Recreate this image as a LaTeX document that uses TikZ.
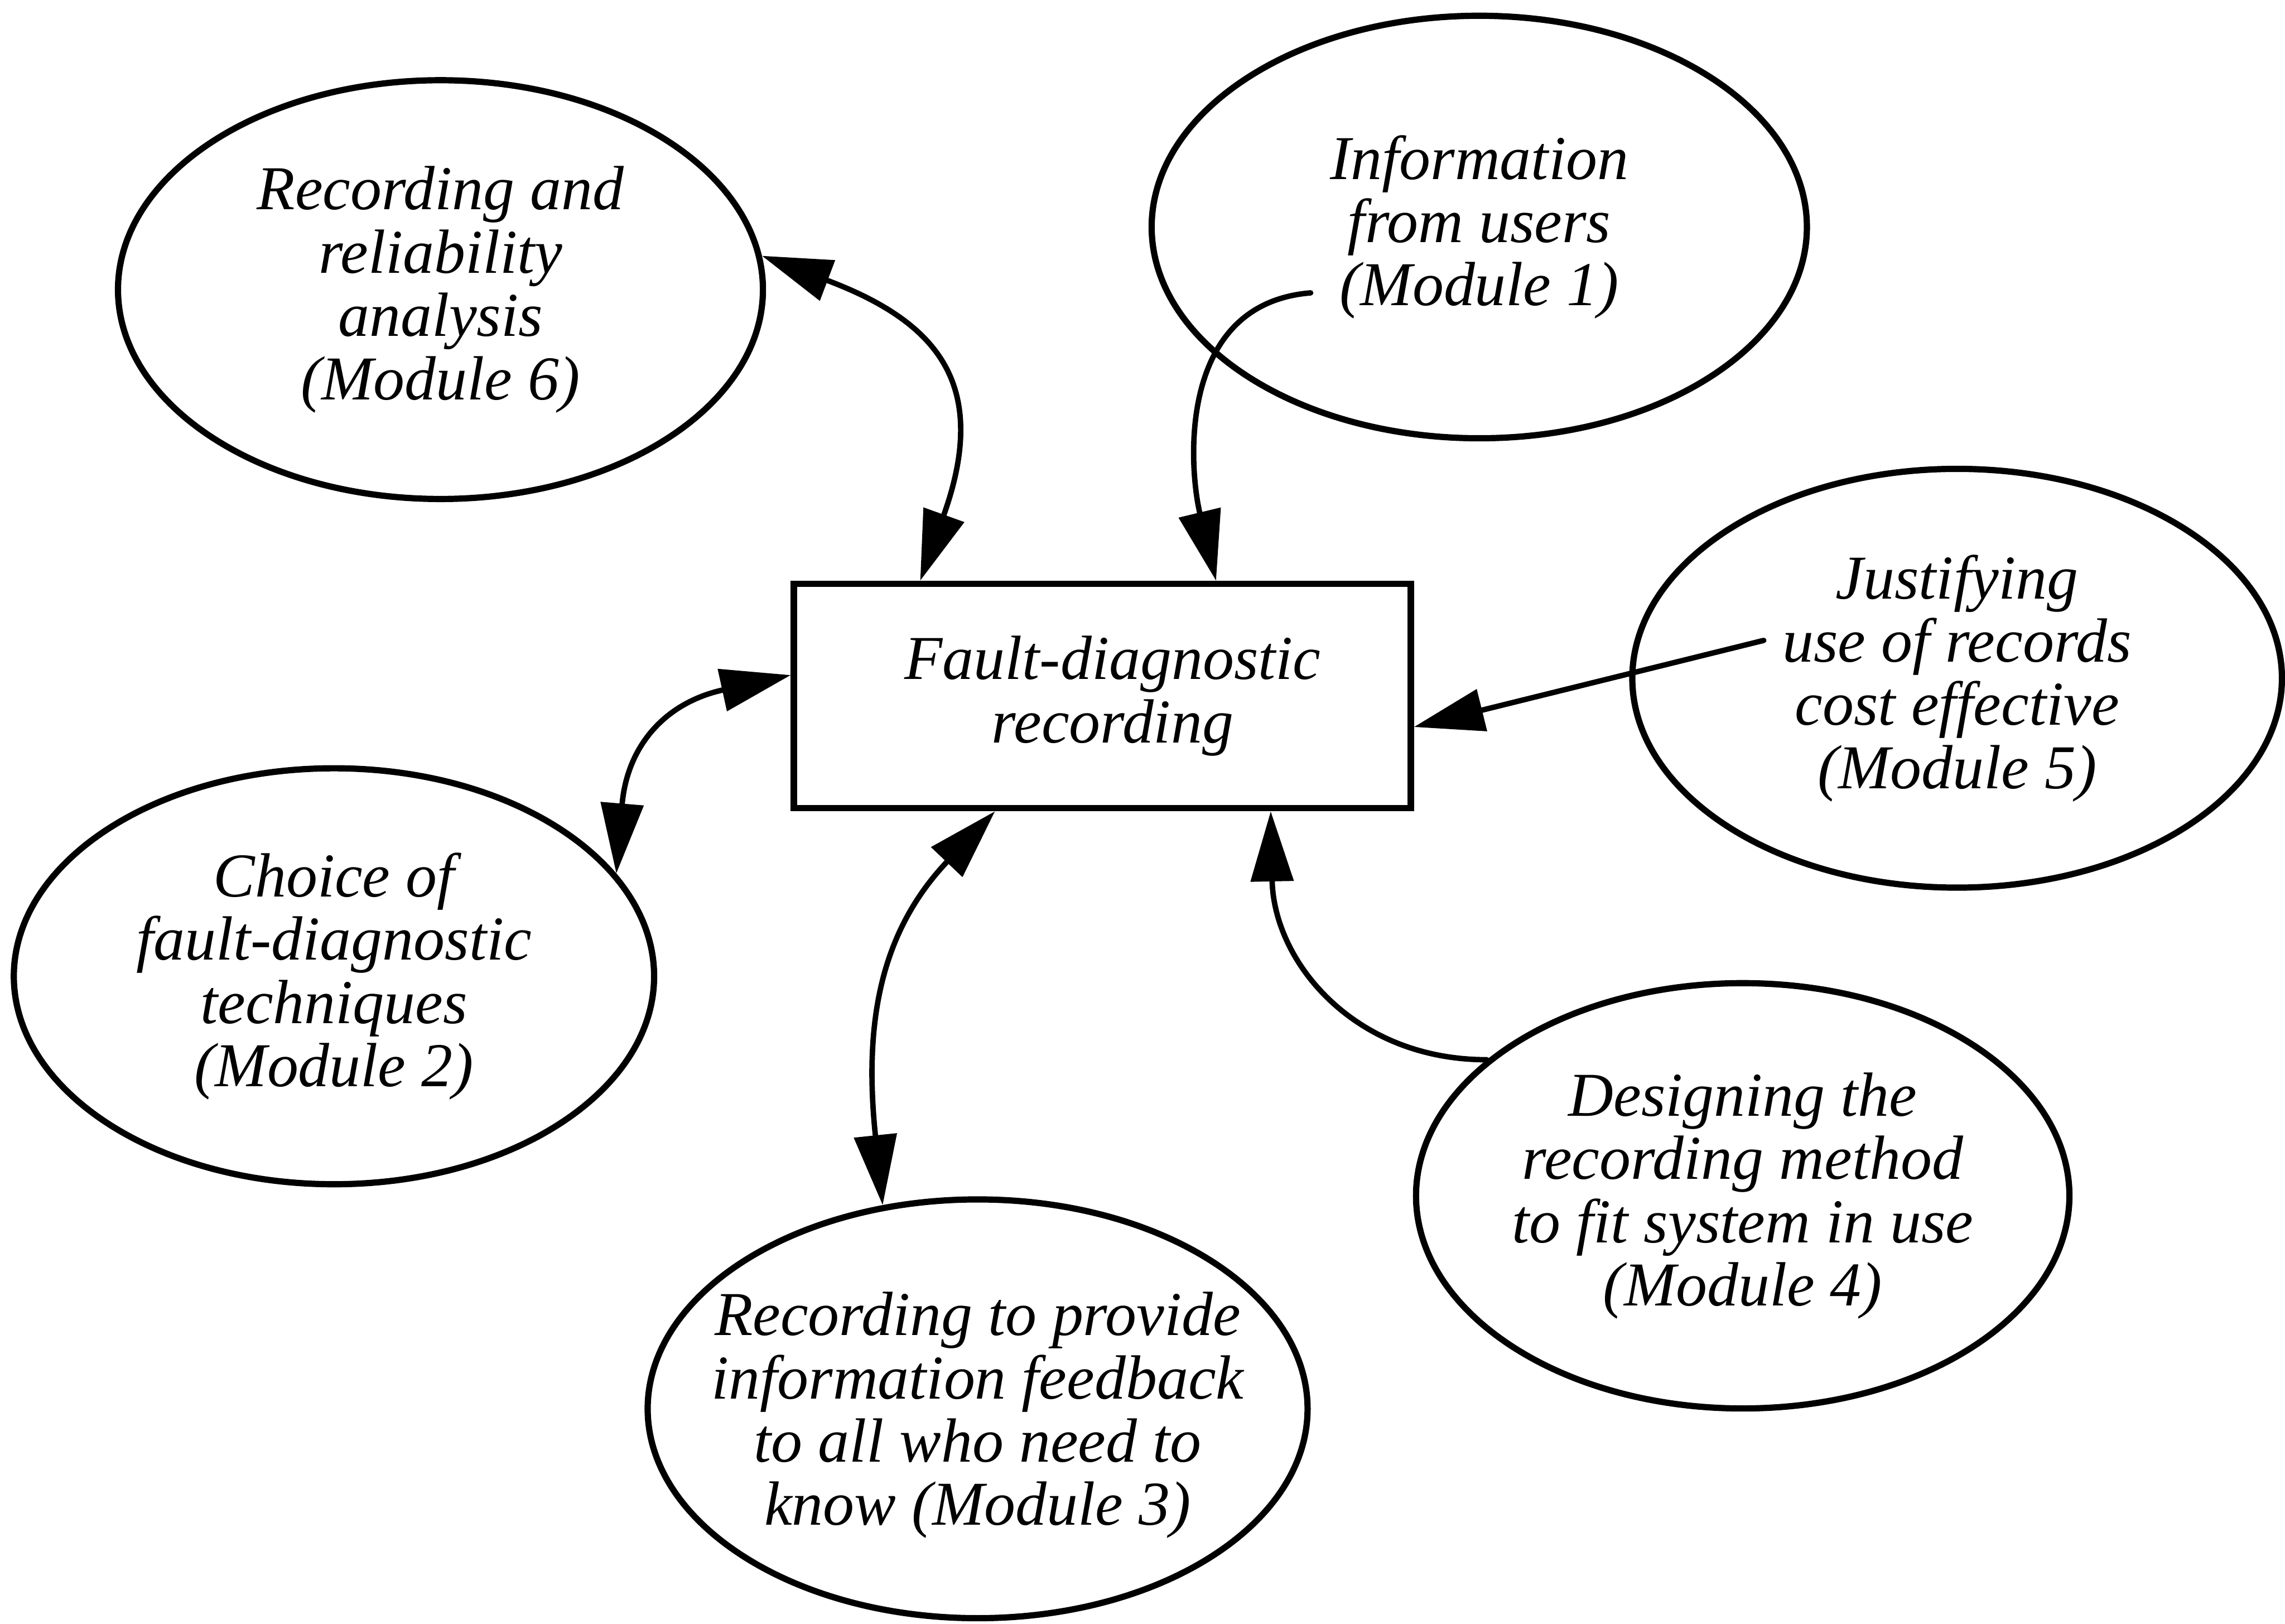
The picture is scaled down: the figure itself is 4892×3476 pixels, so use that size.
\documentclass[tikz,border=0pt]{standalone}
\usepackage{fontspec}
\setmainfont{Liberation Serif}
\usetikzlibrary{shapes.geometric,arrows.meta}

\begin{document}
\begin{tikzpicture}[x=0.01cm,y=-0.01cm]
\tikzset{
  lbl/.style={font=\itshape\fontsize{38}{38.5}\selectfont, align=center, inner sep=0pt},
  module/.style={ellipse, draw, line width=3.8pt, inner sep=0pt},
  corebox/.style={rectangle, draw, line width=3.8pt, minimum width=13.2cm,
                  minimum height=4.8cm},
  tipshape/.tip={Triangle[length=1.5cm,width=0.9cm]},
  link/.style={line width=3.3pt, line cap=round, -tipshape},
  twoway/.style={line width=3.3pt, line cap=round, tipshape-tipshape},
}
% page and background
\useasboundingbox (0,0) rectangle (4892,3476);
\fill[white] (0,0) rectangle (4892,3476);

% central activity
\node[corebox] (box) at (2360,1490) {};
\node[lbl] (tbox) at ([xshift=0.22cm]box.center) {Fault-diagnostic\\recording};

% surrounding modules
\node[module, minimum width=13.8cm, minimum height=8.96cm] (m6) at (943,620) {};
\node[lbl] (t6) at (m6.center) {Recording and\\reliability\\analysis\\(Module 6)};

\node[module, minimum width=14.02cm, minimum height=9.04cm] (m1) at (3167,486) {};
\node[lbl] (t1) at (m1.center) {Information\\from users\\(Module 1)};

\node[module, minimum width=13.9cm, minimum height=8.96cm] (m5) at (4190,1452) {};
\node[lbl] (t5) at (m5.center) {Justifying\\use of records\\cost effective\\(Module 5)};

\node[module, minimum width=13.7cm, minimum height=8.9cm] (m2) at (715,2090) {};
\node[lbl] (t2) at (m2.center) {Choice of\\fault-diagnostic\\techniques\\(Module 2)};

\node[module, minimum width=14.12cm, minimum height=8.96cm] (m3) at (2093,3016) {};
\node[lbl] (t3) at ([yshift=-0.14cm]m3.center) {Recording to provide\\information feedback\\to all who need to\\know (Module 3)};

\node[module, minimum width=13.98cm, minimum height=9.1cm] (m4) at (3731,2560) {};
\node[lbl] (t4) at (m4.center) {Designing the\\recording method\\to fit system in use\\(Module 4)};

% free ends of the one-way connectors
\coordinate (b0) at (2806,627);
\coordinate (f0) at (3776,1371);

% connectors
\draw[twoway] (m6.6) .. controls (2007,689) and (2121,823) .. ([xshift=2.77cm]box.north west);
\draw[link] (b0) .. controls (2520,650) and (2545,1000) .. ([xshift=9.1cm]box.north west);
\draw[twoway] ([yshift=-2.02cm]box.north west) .. controls (1420,1505) and (1342,1601) .. (m2.20);
\draw[twoway] ([xshift=4.37cm]box.south west) .. controls (1880,2000) and (1850,2200) .. (m3.115);
\draw[link] (m4.152) .. controls (2900,2269) and (2727,2060) .. ([xshift=10.27cm]box.south west);
\draw[link] (f0) -- ([yshift=-3.13cm]box.north east);
\end{tikzpicture}
\end{document}
